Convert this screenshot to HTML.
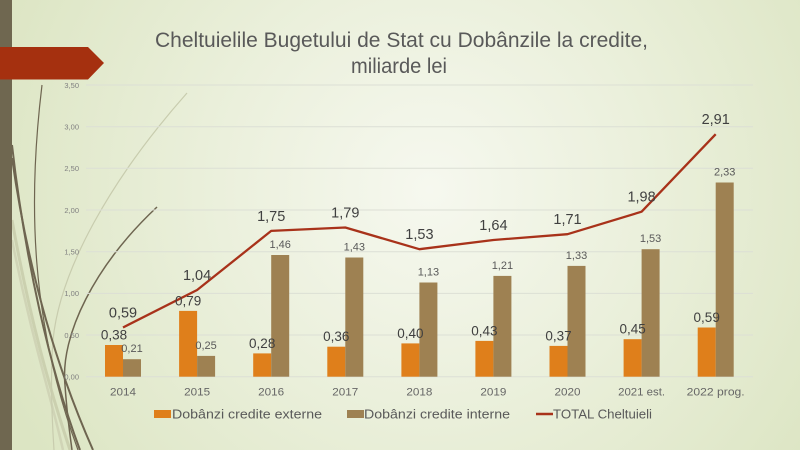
<!DOCTYPE html>
<html><head><meta charset="utf-8"><style>
html,body{margin:0;padding:0;width:800px;height:450px;overflow:hidden}
svg{display:block}
text{font-family:"Liberation Sans","DejaVu Sans",sans-serif}
</style></head><body>
<svg width="800" height="450" viewBox="0 0 800 450" xmlns="http://www.w3.org/2000/svg">
<defs>
<radialGradient id="bg" cx="430" cy="190" r="470" gradientUnits="userSpaceOnUse">
<stop offset="0" stop-color="#F6F8EF"/>
<stop offset="0.45" stop-color="#EBF0DC"/>
<stop offset="1" stop-color="#DCE5C3"/>
</radialGradient>
</defs>
<rect width="800" height="450" fill="url(#bg)"/>
<!-- decorative curves -->
<g fill="none">
<path d="M12 220 C30 320,50 390,70 450" stroke="#CBD0AF" stroke-width="3"/>
<path d="M12 240 C32 340,52 400,63 450" stroke="#D0D4B6" stroke-width="2.5"/>
<path d="M187 93 C110 180,60 270,53 340 C50 380,52 420,54 450" stroke="#C8CCAE" stroke-width="1.2"/>
<path d="M42 85 C28 200,30 320,78 450" stroke="#6E6550" stroke-width="1.2"/>
<path d="M12 145 C25 260,50 370,80 450" stroke="#6E6550" stroke-width="2"/>
<path d="M12 158 C30 285,62 380,93 450" stroke="#6E6550" stroke-width="2"/>
<path d="M157 207 C95 265,60 335,65 385 C67 415,70 435,72 450" stroke="#6E6550" stroke-width="1.5"/>
</g>
<rect x="0" y="0" width="12" height="450" fill="#6F6750"/>
<polygon points="0,47 88,47 104,63 88,79.5 0,79.5" fill="#A5300F"/>
<!-- title -->
<text x="155" y="47" font-size="21" fill="#595959" textLength="493" lengthAdjust="spacingAndGlyphs">Cheltuielile Bugetului de Stat cu Dobânzile la credite,</text>
<text x="351" y="73" font-size="21" fill="#595959" textLength="96" lengthAdjust="spacingAndGlyphs">miliarde lei</text>
<!-- gridlines -->
<g stroke="#DCDFD5" stroke-width="1">
<line x1="86" x2="753" y1="376.7" y2="376.7"/>
<line x1="86" x2="753" y1="335" y2="335"/>
<line x1="86" x2="753" y1="293.4" y2="293.4"/>
<line x1="86" x2="753" y1="251.7" y2="251.7"/>
<line x1="86" x2="753" y1="210" y2="210"/>
<line x1="86" x2="753" y1="168.3" y2="168.3"/>
<line x1="86" x2="753" y1="126.7" y2="126.7"/>
<line x1="86" x2="753" y1="85" y2="85"/>
</g>
<!-- y labels -->
<g font-size="7.5" fill="#808080" text-anchor="end">
<text x="79" y="379.5">0,00</text>
<text x="79" y="337.8">0,50</text>
<text x="79" y="296.2">1,00</text>
<text x="79" y="254.5">1,50</text>
<text x="79" y="212.8">2,00</text>
<text x="79" y="171.1">2,50</text>
<text x="79" y="129.5">3,00</text>
<text x="79" y="87.8">3,50</text>
</g>
<!-- bars -->
<g fill="#DF7F1B">
<rect x="105" y="345.0" width="18" height="31.7"/>
<rect x="179.1" y="310.9" width="18" height="65.8"/>
<rect x="253.2" y="353.4" width="18" height="23.3"/>
<rect x="327.3" y="346.7" width="18" height="30"/>
<rect x="401.4" y="343.4" width="18" height="33.3"/>
<rect x="475.4" y="340.9" width="18" height="35.8"/>
<rect x="549.5" y="345.9" width="18" height="30.8"/>
<rect x="623.6" y="339.2" width="18" height="37.5"/>
<rect x="697.7" y="327.5" width="18" height="49.2"/>
</g>
<g fill="#9E8152">
<rect x="123" y="359.2" width="18" height="17.5"/>
<rect x="197.1" y="355.9" width="18" height="20.8"/>
<rect x="271.2" y="255.0" width="18" height="121.7"/>
<rect x="345.3" y="257.5" width="18" height="119.2"/>
<rect x="419.4" y="282.5" width="18" height="94.2"/>
<rect x="493.4" y="275.9" width="18" height="100.8"/>
<rect x="567.5" y="265.9" width="18" height="110.8"/>
<rect x="641.6" y="249.2" width="18" height="127.5"/>
<rect x="715.7" y="182.5" width="18" height="194.2"/>
</g>
<!-- line -->
<polyline fill="none" stroke="#A8321A" stroke-width="2.3" stroke-linejoin="round"
points="123,327.5 197.1,290 271.2,230.9 345.3,227.5 419.4,249.2 493.4,240 567.5,234.2 641.6,211.7 715.7,134.2"/>
<!-- orange labels -->
<g font-size="13.5" fill="#404040" text-anchor="middle">
<text x="114" y="339.5">0,38</text>
<text x="188.1" y="305.4">0,79</text>
<text x="262.2" y="347.9">0,28</text>
<text x="336.3" y="341.2">0,36</text>
<text x="410.4" y="337.9">0,40</text>
<text x="484.4" y="335.4">0,43</text>
<text x="558.5" y="340.4">0,37</text>
<text x="632.6" y="333.7">0,45</text>
<text x="706.7" y="322">0,59</text>
</g>
<!-- brown labels -->
<g font-size="11" fill="#595959" text-anchor="middle">
<text x="132" y="352.2">0,21</text>
<text x="206.1" y="348.9">0,25</text>
<text x="280.2" y="248">1,46</text>
<text x="354.3" y="250.5">1,43</text>
<text x="428.4" y="275.5">1,13</text>
<text x="502.4" y="268.9">1,21</text>
<text x="576.5" y="258.9">1,33</text>
<text x="650.6" y="242.2">1,53</text>
<text x="724.7" y="175.5">2,33</text>
</g>
<!-- total labels -->
<g font-size="14.5" fill="#404040" text-anchor="middle">
<text x="123" y="317.5">0,59</text>
<text x="197.1" y="280">1,04</text>
<text x="271.2" y="220.9">1,75</text>
<text x="345.3" y="217.5">1,79</text>
<text x="419.4" y="239.2">1,53</text>
<text x="493.4" y="230">1,64</text>
<text x="567.5" y="224.2">1,71</text>
<text x="641.6" y="201.7">1,98</text>
<text x="715.7" y="124.2">2,91</text>
</g>
<!-- x labels -->
<g font-size="11" fill="#666666" text-anchor="middle">
<text x="123" y="395.5" textLength="26" lengthAdjust="spacingAndGlyphs">2014</text>
<text x="197.1" y="395.5" textLength="26" lengthAdjust="spacingAndGlyphs">2015</text>
<text x="271.2" y="395.5" textLength="26" lengthAdjust="spacingAndGlyphs">2016</text>
<text x="345.3" y="395.5" textLength="26" lengthAdjust="spacingAndGlyphs">2017</text>
<text x="419.4" y="395.5" textLength="26" lengthAdjust="spacingAndGlyphs">2018</text>
<text x="493.4" y="395.5" textLength="26" lengthAdjust="spacingAndGlyphs">2019</text>
<text x="567.5" y="395.5" textLength="26" lengthAdjust="spacingAndGlyphs">2020</text>
<text x="641.6" y="395.5" textLength="47" lengthAdjust="spacingAndGlyphs">2021 est.</text>
<text x="715.7" y="395.5" textLength="58" lengthAdjust="spacingAndGlyphs">2022 prog.</text>
</g>
<!-- legend -->
<rect x="154" y="410" width="17" height="8" fill="#DF7F1B"/>
<text x="172" y="418.5" font-size="13" fill="#595959" textLength="150" lengthAdjust="spacingAndGlyphs">Dobânzi credite externe</text>
<rect x="347" y="410" width="17" height="8" fill="#9E8152"/>
<text x="364" y="418.5" font-size="13" fill="#595959" textLength="146" lengthAdjust="spacingAndGlyphs">Dobânzi credite interne</text>
<line x1="536" x2="553" y1="414" y2="414" stroke="#A8321A" stroke-width="2.5"/>
<text x="553" y="418.5" font-size="13" fill="#595959" textLength="99" lengthAdjust="spacingAndGlyphs">TOTAL Cheltuieli</text>
</svg>
</body></html>
